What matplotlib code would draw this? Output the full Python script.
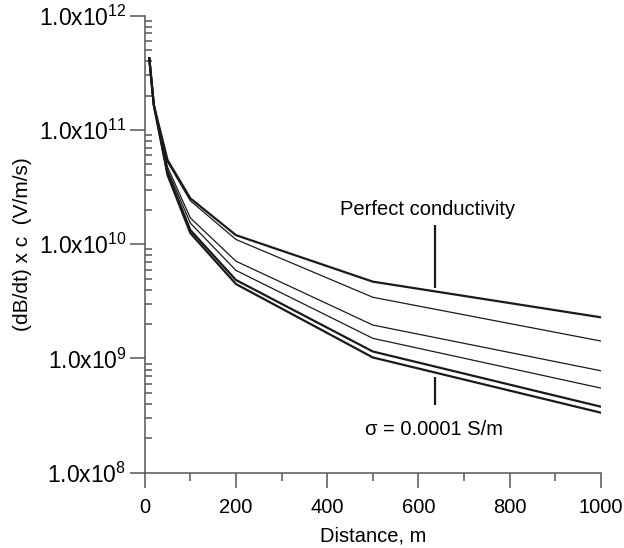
import math
import matplotlib
matplotlib.use('Agg')
import matplotlib.pyplot as plt
from matplotlib.ticker import FuncFormatter, LogLocator, MultipleLocator, NullFormatter

plt.rcParams['font.family'] = ['Liberation Sans', 'DejaVu Sans']
plt.rcParams['mathtext.fontset'] = 'custom'
plt.rcParams['mathtext.rm'] = 'Liberation Sans'
plt.rcParams['mathtext.it'] = 'Liberation Sans:italic'

# distances (m) and field derivative curves, from perfect conductivity down to 0.0001 S/m
distance = [10, 20, 50, 100, 200, 500, 1000]
perfect = [4.24e11, 1.65e11, 5.46e10, 2.52e10, 1.20e10, 4.70e9, 2.29e9]
curve2 = [4.24e11, 1.65e11, 5.24e10, 2.40e10, 1.10e10, 3.43e9, 1.42e9]
curve3 = [4.24e11, 1.65e11, 4.74e10, 1.70e10, 7.1e9, 1.96e9, 7.8e8]
curve4 = [4.24e11, 1.65e11, 4.46e10, 1.53e10, 5.9e9, 1.50e9, 5.5e8]
curve5 = [4.24e11, 1.65e11, 4.20e10, 1.33e10, 4.86e9, 1.15e9, 3.78e8]
sigma_low = [4.24e11, 1.65e11, 4.03e10, 1.25e10, 4.48e9, 1.02e9, 3.35e8]

curves = [perfect, curve2, curve3, curve4, curve5, sigma_low]
widths = [1.6, 0.9, 0.9, 0.9, 1.6, 1.6]

fig = plt.figure(figsize=(6.24, 5.48), dpi=100)
ax = fig.add_axes([0.2319, 0.1374, 0.7312, 0.834])

for vals, lw in zip(curves, widths):
    ax.plot(distance, vals, color='#1a1a1a', lw=lw, solid_joinstyle='miter')

ax.set_yscale('log')
ax.set_xlim(0, 1000)
ax.set_ylim(1e8, 1e12)

for side in ['top', 'right']:
    ax.spines[side].set_visible(False)
for side in ['left', 'bottom']:
    ax.spines[side].set_color('#555555')
    ax.spines[side].set_linewidth(1.1)

ax.xaxis.set_major_locator(MultipleLocator(200))
ax.xaxis.set_minor_locator(MultipleLocator(100))
ax.yaxis.set_major_locator(LogLocator(base=10, numticks=10))
ax.yaxis.set_minor_locator(LogLocator(base=10, subs=range(2, 10), numticks=20))
ax.yaxis.set_minor_formatter(NullFormatter())
ax.yaxis.set_major_formatter(FuncFormatter(
    lambda v, p: r'1.0x10$^{%d}$' % round(math.log10(v))))

ax.tick_params(axis='x', which='major', direction='out', length=11, width=1.1,
               color='#555555', labelsize=14.5, pad=7)
ax.tick_params(axis='x', which='minor', direction='out', length=5.8, width=1.1,
               color='#555555')
ax.tick_params(axis='y', which='major', direction='out', length=11, width=1.1,
               color='#555555', labelsize=16.5, pad=2)
ax.tick_params(axis='y', which='minor', direction='in', length=5, width=1.1,
               color='#555555')

ax.set_xlabel('Distance, m', fontsize=14.5, labelpad=7)
ax.set_ylabel('(dB/dt) x c  (V/m/s)', fontsize=15, labelpad=5)

# labels with leader lines
ax.text(621, 2.03e10, 'Perfect conductivity', fontsize=14.5, ha='center', va='center')
ax.vlines(636, 4.14e9, 1.47e10, color='#1a1a1a', lw=1.6)
ax.vlines(636, 3.92e8, 6.92e8, color='#1a1a1a', lw=1.6)
ax.text(634, 2.39e8, '\u03c3 = 0.0001 S/m', fontsize=14.5, ha='center', va='center')

fig.savefig('out.png', dpi=100)
